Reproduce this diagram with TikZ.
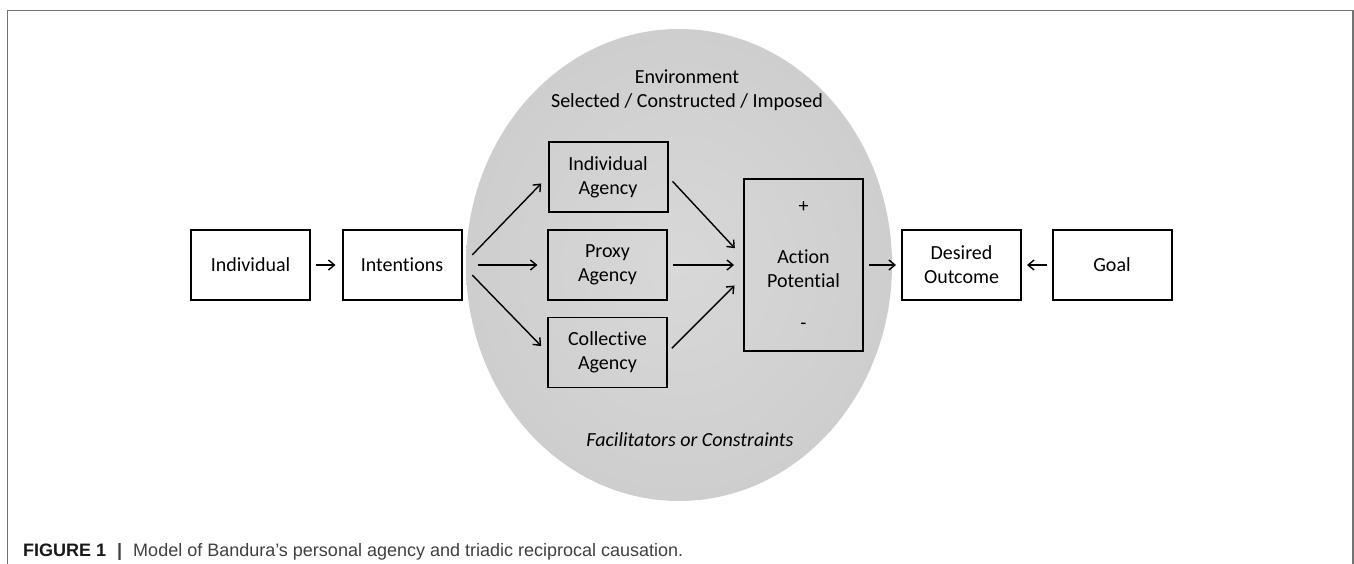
\documentclass[tikz,border=0pt]{standalone}
\usepackage{fontspec}
\setmainfont{Carlito}[Ligatures=NoCommon]
\newfontfamily\capfont{Liberation Sans}
\usetikzlibrary{positioning,arrows.meta,shapes.geometric}
\definecolor{envgray}{RGB}{216,216,216}
\definecolor{envedge}{RGB}{206,206,206}

\begin{document}
\begin{tikzpicture}[
    x=1pt,
    y=-1pt,
    >={Straight Barb[length=6pt,width=10pt]},
    box/.style ={
        draw=black,
        fill=white,
        line width=2pt,
        minimum width=119pt,
        minimum height=70pt,
        inner sep=0pt,
        align=center,
        font=\fontsize{20}{24}\selectfont
    },
    inbox/.style ={
        box,
        fill=none
    },
    thinbox/.style ={
        inbox,
        line width=1.1pt
    },
    lbl/.style ={
        align=center,
        inner sep=0pt,
        font=\fontsize{20}{24}\selectfont
    },
    arr/.style ={
        ->,
        line width=1.4pt
    }
    ]
    \useasboundingbox (0,0) rectangle (1354,564);
    \draw[black!55, line width=1.2pt] (7.5,564) -- (7.5,10.5) -- (1353,10.5) -- (1353,564);

    % environment
    \node[ellipse, minimum width=426pt, minimum height=472pt, inner sep=0pt,
          shading=radial, inner color=envgray, outer color=envedge] (env) at (679,265) {};
    \node[lbl] (envtitle) at (687,90) {Environment\\Selected / Constructed / Imposed};
    \node[lbl, font=\fontsize{20}{24}\selectfont\itshape] (facil) at (690,440) {Facilitators or Constraints};

    \foreach \name/ \pos/ \txt/ \sty in {{indiv/(250.5,265)/Individual/box}, {intent/(402,265)/Intentions/box},
                                {iagency/(608,177)/Individual\\Agency/inbox}, {pagency/(607.5,265)/Proxy\\Agency/thinbox},
                                {cagency/(607.5,352.5)/Collective\\Agency/thinbox},
                                {desired/(961.5,265)/Desired\\Outcome/box}, {goal/(1112,265)/Goal/box}}
        \node[\sty] (\name) at \pos {\txt};
    \node[inbox, minimum height=172pt] (action) at (803.5,265) {};
    \node[lbl] (actlbl) at ([yshift=-4pt]action.center) {Action\\Potential};
    \node[lbl] (plus) at ([yshift=-29pt]action.north) {+};
    \node[lbl] (minus) at ([yshift=26pt]action.south) {-};

    \foreach \src/ \dst/ \dy/ \pre/ \post in {
        indiv.east/intent.west/0/5/6, intent.east/iagency.west/0/14/9,
        intent.east/pagency.west/0/15/10, intent.east/cagency.west/0/14/9,
        iagency.east/action.west/8/6/12, pagency.east/action.west/0/5/9,
        cagency.east/action.west/-12/6/12, action.east/desired.west/0/5/5,
        goal.west/desired.east/0/5/5}{
        \draw[arr, shorten <=\pre pt, shorten >=\post pt] (\src) -- ([yshift=\dy pt]\dst);
    };

    \node[anchor=base west, inner sep=0pt, text=black!75,
          font=\capfont\fontsize{18}{22}\selectfont] (caption) at (23,556)
        {\textcolor{black!90}{\textbf{FIGURE 1}}\hspace{11pt}\textbf{|}\hspace{11pt}Model of Bandura’s personal agency and triadic reciprocal causation.};
\end{tikzpicture}
\end{document}
